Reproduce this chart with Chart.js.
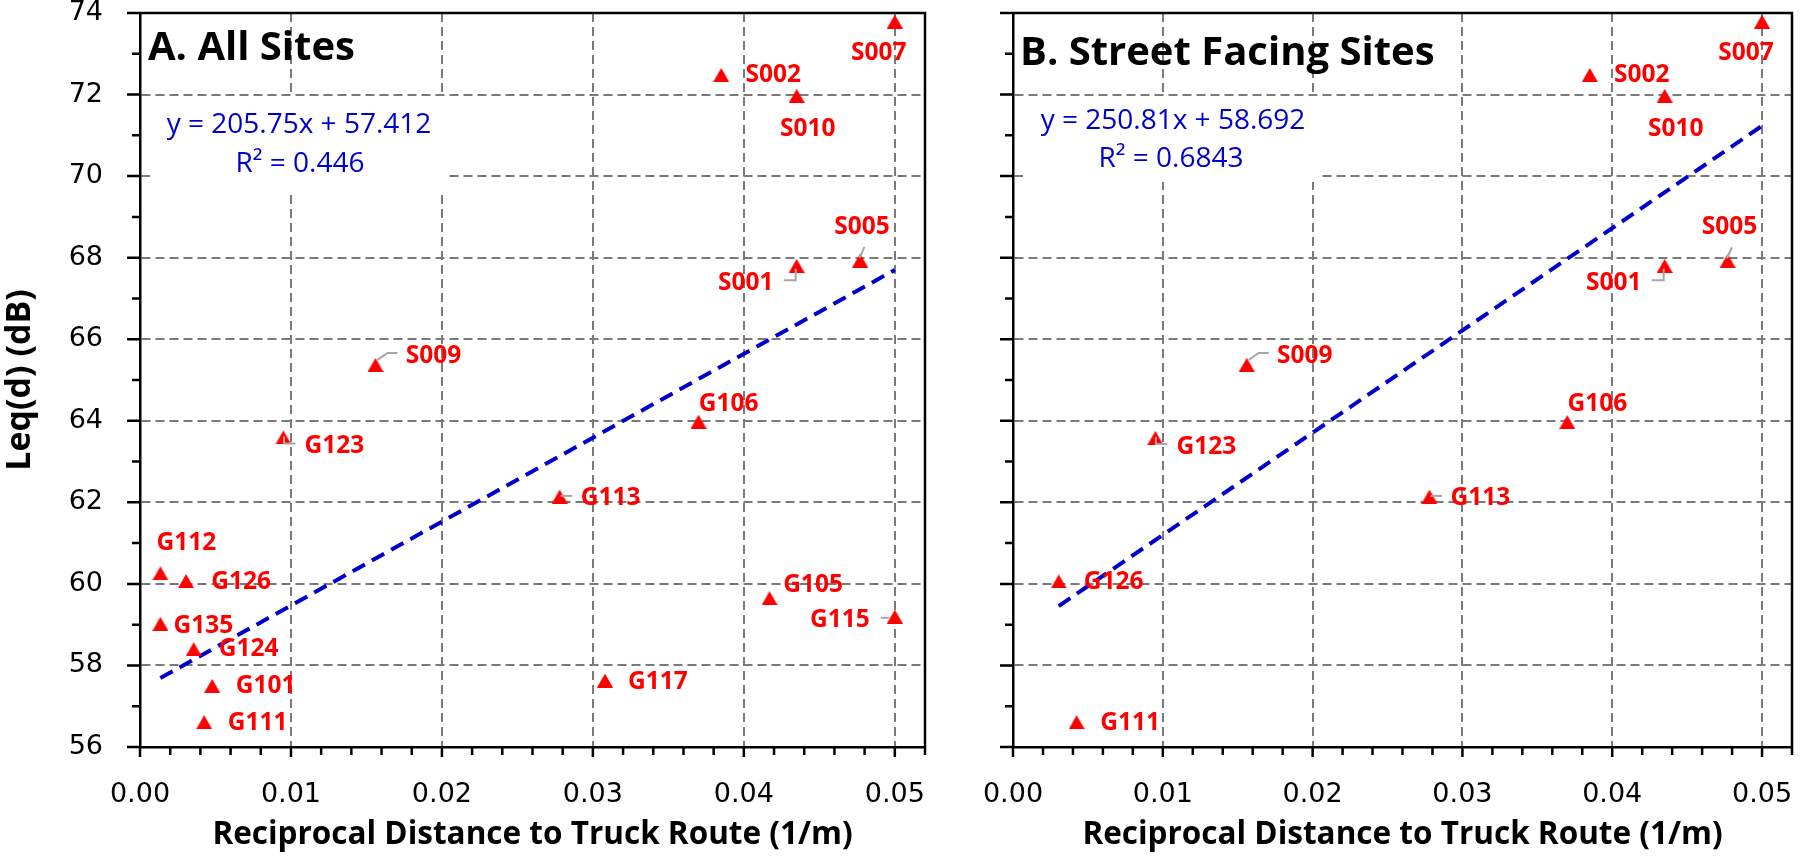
<!DOCTYPE html>
<html><head><meta charset="utf-8">
<script src="https://cdn.jsdelivr.net/npm/chart.js@4.4.0/dist/chart.umd.min.js"></script>
<style>
html,body{margin:0;padding:0;background:#fff;}
#wrap{position:relative;width:1800px;height:857px;overflow:hidden;background:#fff;}
#cA{position:absolute;left:0;top:0;}
#cB{position:absolute;left:940px;top:0;}
</style></head><body>
<div id="wrap"><canvas id="cA" width="940" height="857"></canvas><canvas id="cB" width="860" height="857"></canvas></div>
<script>
// ---------- data ----------
const sitesA = ['S007','S002','S010','S005','S001','S009','G106','G123','G113','G112','G126','G105','G115','G135','G124','G117','G101','G111'];
const xA = [0.0500,0.0385,0.0435,0.0477,0.0435,0.0156,0.0370,0.0095,0.0278,0.00135,0.00305,0.0417,0.0500,0.00135,0.00356,0.0308,0.00478,0.00425];
const yA = [73.79,72.48,71.97,67.93,67.80,65.37,63.98,63.59,62.14,60.26,60.07,59.65,59.20,59.02,58.40,57.63,57.50,56.61];

const sitesB = ['S007','S002','S010','S005','S001','S009','G106','G123','G113','G126','G111'];
const xB = [0.0500,0.0385,0.0435,0.0477,0.0435,0.0156,0.0370,0.0095,0.0278,0.00305,0.00425];
const yB = [73.79,72.48,71.97,67.92,67.80,65.37,63.97,63.58,62.14,60.06,56.61];

const trendA = [205.75, 57.412];   // slope, intercept
const trendB = [250.81, 58.692];
const eqTextA = ['y = 205.75x + 57.412', 'R\u00B2 = 0.446'];
const eqTextB = ['y = 250.81x + 58.692', 'R\u00B2 = 0.6843'];
const panelTitles = ['A. All Sites', 'B. Street Facing Sites'];
const xAxisTitle = 'Reciprocal Distance to Truck Route (1/m)';
const yAxisTitle = 'Leq(d) (dB)';

const xTicks = [0, 0.01, 0.02, 0.03, 0.04, 0.05];
const xTickLabels = ['0.00','0.01','0.02','0.03','0.04','0.05'];
const xMinor = [0.002,0.004,0.006,0.008,0.012,0.014,0.016,0.018,0.022,0.024,0.026,0.028,0.032,0.034,0.036,0.038,0.042,0.044,0.046,0.048,0.052];
const yTicks = [56,58,60,62,64,66,68,70,72,74];
const yMinor = [57,59,61,63,65,67,69,71,73];
const xRange = [0, 0.052];
const yRange = [56, 74];

// ---------- label styling (offsets in px from the point) ----------
const labelOffset = {
  S007:[-16,30], S002:[52,-1], S010:[11,32], S001:[-51,16], S005:[2,-35], G106:[30,-19],
  S009:[58,-9.5], G123:[51,8], G112:[26,-31], G126:[55,0], G135:[43,1.5], G124:[55,-1],
  G101:[53.5,-0.5], G111:[53.5,0], G113:[51,0], G117:[53,0], G105:[43.5,-14], G115:[-55,3]
};
const leaders = {
  S001:[[-13,14.5],[-1,14.5],[-1,3]],
  S005:[[4.4,-13.7],[-0.6,-2.7]],
  S009:[[22,-12],[12,-12],[2,-5]],
  G123:[[12,6],[0.6,6],[0.6,-1]],
  G113:[[1,-0.7],[12.5,-0.7]],
  G115:[[-14,1.3],[-6,1.3]]
};

const RED = '#ff0000', BLUE = '#0000cc', GRID = '#7a7a7a', LEADER = '#a6a6a6';

function triangle(){
  const c = document.createElement('canvas'); c.width = 16; c.height = 14;
  const g = c.getContext('2d'); g.fillStyle = RED;
  g.beginPath(); g.moveTo(8,0); g.lineTo(16,14); g.lineTo(0,14); g.closePath(); g.fill();
  return c;
}
const tri = triangle();

const decor = {
  id:'decor',
  beforeDatasetsDraw(chart, args, o){
    const a = chart.chartArea, ctx = chart.ctx;
    ctx.save(); ctx.fillStyle = '#fff';
    ctx.fillRect(a.left+o.box[0], a.top+o.box[1], o.box[2], o.box[3]);
    ctx.restore();
  },
  afterDatasetsDraw(chart, args, o){
    const a = chart.chartArea, ctx = chart.ctx;
    const xs = chart.scales.x, ys = chart.scales.y;
    ctx.save();
    // equation
    ctx.fillStyle = BLUE; ctx.font = '28px "Open Sans"'; ctx.textAlign = 'center'; ctx.textBaseline = 'middle';
    o.eq.forEach((t,i)=>ctx.fillText(t, a.left+o.eqPos[i][0], a.top+o.eqPos[i][1]));
    // panel title
    ctx.fillStyle = '#000'; ctx.font = 'bold 40px "Open Sans"'; ctx.textAlign = 'left'; ctx.textBaseline = 'alphabetic';
    ctx.fillText(o.title, a.left+o.titlePos[0], a.top+o.titlePos[1]);
    // leaders + labels
    const ds = chart.data.datasets[0];
    ds.data.forEach((p,i)=>{
      const name = o.sites[i];
      const px = xs.getPixelForValue(p.x), py = ys.getPixelForValue(p.y);
      const L = leaders[name];
      if (L){
        ctx.strokeStyle = LEADER; ctx.lineWidth = 2; ctx.beginPath();
        L.forEach((q,k)=>{ k? ctx.lineTo(px+q[0],py+q[1]) : ctx.moveTo(px+q[0],py+q[1]); });
        ctx.stroke();
      }
      const off = labelOffset[name];
      ctx.fillStyle = RED; ctx.font = 'bold 24.5px "Open Sans"'; ctx.textAlign = 'center'; ctx.textBaseline = 'middle';
      ctx.fillText(name, px+off[0], py+off[1]+1);
    });
    ctx.restore();
  },
  afterDraw(chart, args, o){
    const a = chart.chartArea, ctx = chart.ctx;
    const xs = chart.scales.x, ys = chart.scales.y;
    ctx.save(); ctx.strokeStyle = '#000'; ctx.lineWidth = 2.5;
    ctx.beginPath();
    yTicks.forEach(v=>{ const y = ys.getPixelForValue(v); ctx.moveTo(a.left-13, y); ctx.lineTo(a.left, y); });
    yMinor.forEach(v=>{ const y = ys.getPixelForValue(v); ctx.moveTo(a.left-8, y); ctx.lineTo(a.left, y); });
    xTicks.forEach(v=>{ const x = xs.getPixelForValue(v); ctx.moveTo(x, a.bottom); ctx.lineTo(x, a.bottom+10); });
    xMinor.forEach(v=>{ const x = xs.getPixelForValue(v); ctx.moveTo(x, a.bottom); ctx.lineTo(x, a.bottom+8); });
    ctx.moveTo(a.left, a.top); ctx.lineTo(a.right, a.top); ctx.lineTo(a.right, a.bottom);
    ctx.stroke();
    ctx.restore();
  }
};

function makeChart(id, sites, xs, ys, trend, eq, title, opt){
  const pts = xs.map((v,i)=>({x:v, y:ys[i]}));
  const x0 = Math.min(...xs), x1 = Math.max(...xs);
  const line = [{x:x0, y:trend[0]*x0+trend[1]}, {x:x1, y:trend[0]*x1+trend[1]}];
  return new Chart(document.getElementById(id), {
    type:'scatter',
    data:{datasets:[
      {data:pts, pointStyle:tri, pointRadius:7, showLine:false, backgroundColor:RED, borderColor:RED},
      {data:line, showLine:true, borderColor:BLUE, borderWidth:4, borderDash:[14,8], pointRadius:0, fill:false}
    ]},
    options:{
      responsive:false, animation:false, devicePixelRatio:1, events:[],
      layout:{padding:{top:13, right:opt.padRight, left:0, bottom:0}},
      plugins:{legend:{display:false}, tooltip:{enabled:false},
        decor:{sites:sites, eq:eq, eqPos:opt.eqPos, box:opt.box, title:title, titlePos:opt.titlePos}},
      scales:{
        x:{type:'linear', min:xRange[0], max:xRange[1],
          afterBuildTicks:s=>{ s.ticks = xTicks.map(v=>({value:v})); },
          afterFit:s=>{ s.height = 110; s.paddingLeft = 0; s.paddingRight = 0; s.paddingTop = 0; s.paddingBottom = 0; },
          grid:{color:GRID, lineWidth:2, drawTicks:false},
          border:{display:true, color:'#000', width:2.5, dash:[9,5]},
          ticks:{padding:32, color:'#000', font:{family:'"DejaVu Sans"', size:27}, maxRotation:0, autoSkip:false,
            callback:(v,i)=>xTickLabels[i]},
          title:{display:true, text:xAxisTitle, color:'#000', font:{family:'"Open Sans"', size:31.5, weight:'bold'}, padding:{top:0,bottom:3}}
        },
        y:{type:'linear', min:yRange[0], max:yRange[1],
          afterBuildTicks:s=>{ s.ticks = yTicks.map(v=>({value:v})); },
          afterFit:s=>{ s.width = opt.yWidth; s.paddingTop = 0; s.paddingBottom = 0; s.paddingLeft = 0; s.paddingRight = 0; },
          grid:{color:GRID, lineWidth:2, drawTicks:false},
          border:{display:true, color:'#000', width:2.5, dash:[9,5]},
          ticks:{display:opt.yLabels, padding:37, color:'#000', font:{family:'"DejaVu Sans"', size:27},
            callback:v=>String(v)},
          title:{display:opt.yLabels, text:yAxisTitle, color:'#000', font:{family:'"Open Sans"', size:34, weight:'bold'}, padding:{top:0,bottom:0}}
        }
      }
    },
    plugins:[decor]
  });
}

makeChart('cA', sitesA, xA, yA, trendA, eqTextA, panelTitles[0],
  {padRight:15, yWidth:140, yLabels:true, eqPos:[[159,112],[160,151]], box:[10,84,297,95], titlePos:[8,47]});
makeChart('cB', sitesB, xB, yB, trendB, eqTextB, panelTitles[1],
  {padRight:2, yWidth:73, yLabels:false, eqPos:[[160,108.5],[158,146]], box:[10,84,297,85], titlePos:[7,52]});
</script>
</body></html>
